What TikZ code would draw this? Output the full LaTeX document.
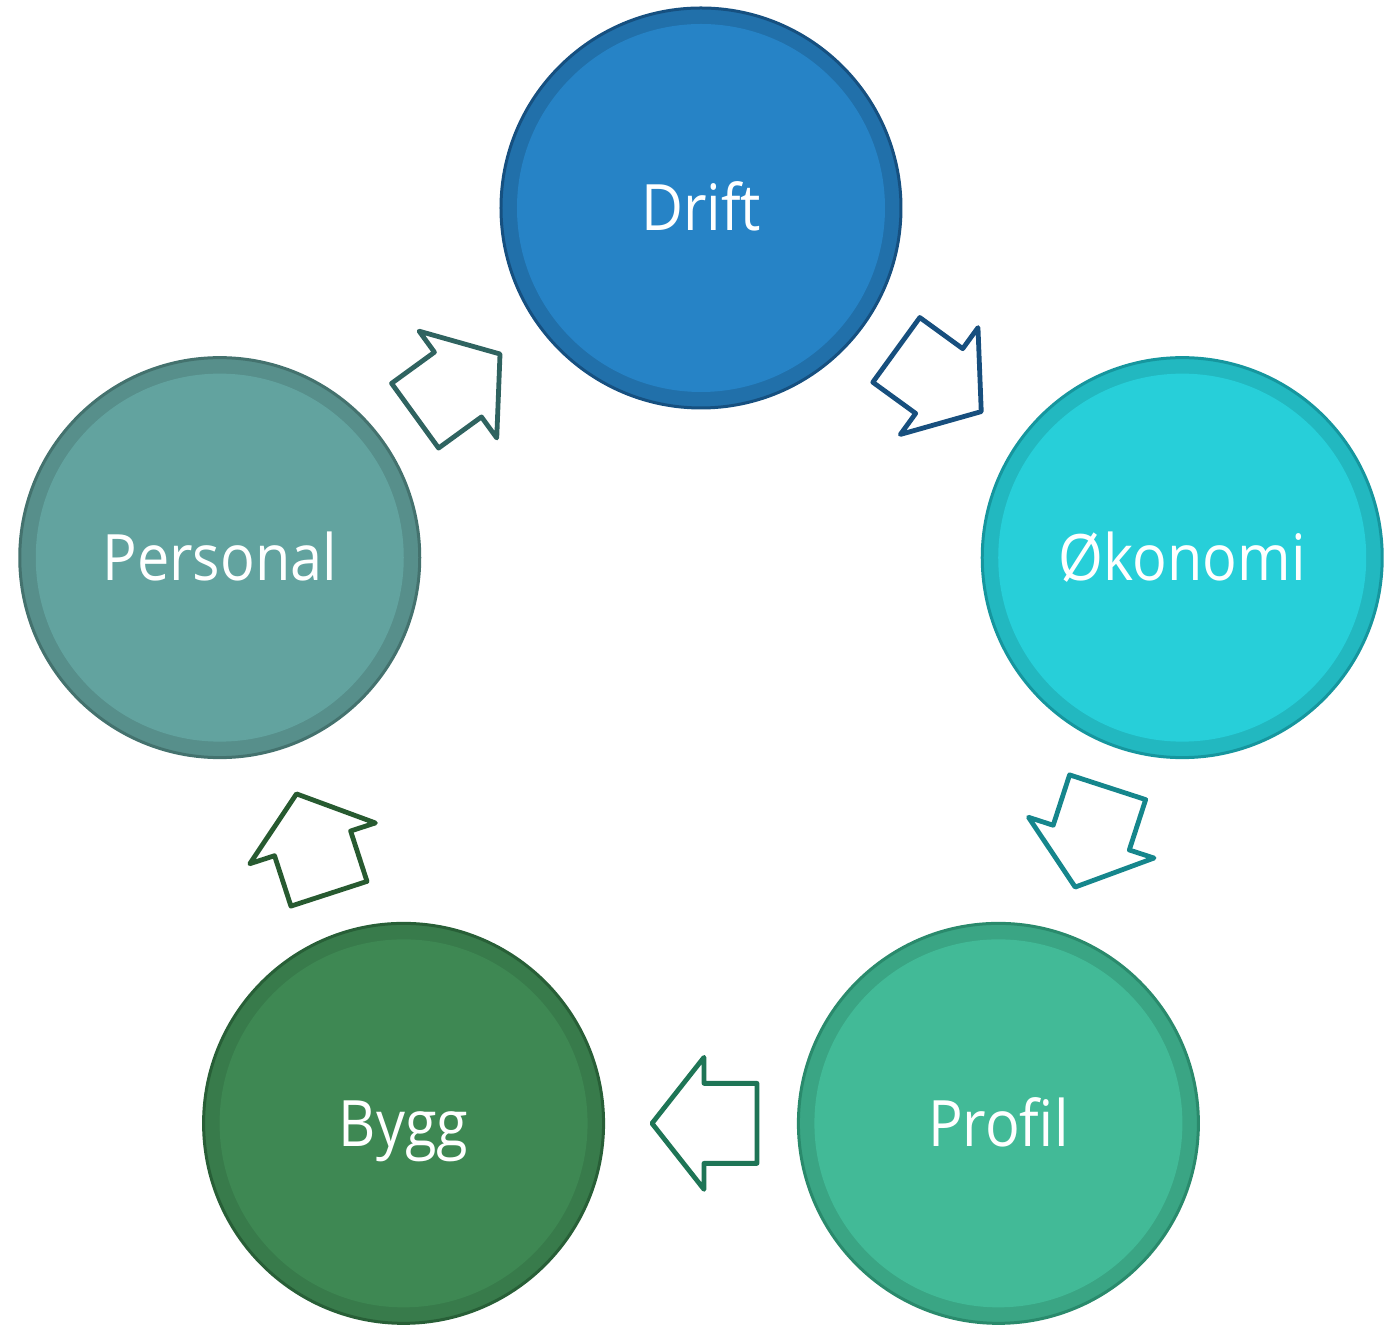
\documentclass[tikz,border=0pt]{standalone}
\usepackage{fontspec}
\setmainfont[FakeStretch=0.9]{Open Sans}
\usetikzlibrary{calc}
\usetikzlibrary{positioning}
\definecolor{driftfill}{RGB}{38, 131, 198}
\definecolor{driftring}{RGB}{33, 112, 170}
\definecolor{driftedge}{RGB}{22, 80, 128}
\definecolor{okofill}{RGB}{39, 207, 217}
\definecolor{okoring}{RGB}{34, 184, 192}
\definecolor{okoedge}{RGB}{22, 150, 158}
\definecolor{profilfill}{RGB}{66, 186, 151}
\definecolor{profilring}{RGB}{58, 165, 132}
\definecolor{profiledge}{RGB}{42, 138, 108}
\definecolor{byggfill}{RGB}{62, 136, 83}
\definecolor{byggring}{RGB}{56, 123, 75}
\definecolor{byggedge}{RGB}{40, 95, 55}
\definecolor{personalfill}{RGB}{98, 163, 159}
\definecolor{personalring}{RGB}{87, 143, 139}
\definecolor{personaledge}{RGB}{68, 114, 110}
\definecolor{driftarrow}{RGB}{23, 79, 126}
\definecolor{okoarrow}{RGB}{21, 134, 140}
\definecolor{profilarrow}{RGB}{30, 117, 86}
\definecolor{byggarrow}{RGB}{39, 90, 48}
\definecolor{personalarrow}{RGB}{47, 99, 96}

\tikzset{blockarrow/.pic={
    \draw[pic actions] (-56, 40) -- (-3, 40) -- (-3, 66) -- (49, 0)
                       -- (-3,-66) -- (-3,-40) -- (-56,-40) -- cycle;
}}

\begin{document}
\begin{tikzpicture}[x=0.5pt, y=0.5pt,
    phase/.style={circle, minimum size=200pt, inner sep=0pt, line width=1.5pt,
                  draw=#1edge, fill=#1ring, text=white,
                  font=\fontsize{32}{38}\selectfont, text height=23pt, text depth=0pt,
                  path picture={\fill[#1fill] (path picture bounding box.center) circle (92pt);}},
    cyclearrow/.style={draw=#1, fill=white, line width=2.4pt, line join=round}]
            % Frame to match the page
            \useasboundingbox                                      (-701,-612) rectangle (698, 714);
            % Phases
            \node[phase=drift]    (drift)    at ( 90:506) {Drift};
            \node[phase=oko]      (okonomi)  at ( 18:506) {Økonomi};
            \node[phase=profil]   (profil)   at (-54:506) {Profil};
            \node[phase=bygg]     (bygg)     at (-126:506) {Bygg};
            \node[phase=personal] (personal) at (162:506) {Personal};
            % Arrows between phases
            \pic[cyclearrow=driftarrow,    rotate= -36] at ($(drift)!0.5!(okonomi)$)   {blockarrow};
            \pic[cyclearrow=okoarrow,      rotate=-108] at ($(okonomi)!0.5!(profil)$)  {blockarrow};
            \pic[cyclearrow=profilarrow,   rotate= 180] at ($(profil)!0.5!(bygg)$)     {blockarrow};
            \pic[cyclearrow=byggarrow,     rotate= 108] at ($(bygg)!0.5!(personal)$)   {blockarrow};
            \pic[cyclearrow=personalarrow, rotate=  36] at ($(personal)!0.5!(drift)$)  {blockarrow};
\end{tikzpicture}
\end{document}
